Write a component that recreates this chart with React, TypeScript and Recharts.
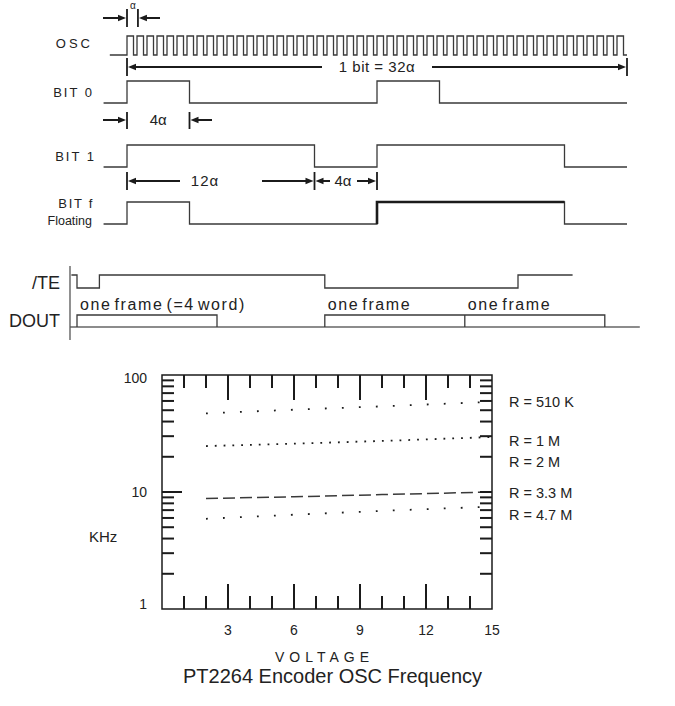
import React from 'react';
import { LineChart, Line, XAxis, YAxis, ReferenceArea, ReferenceLine } from 'recharts';

// ---------- timing diagram: time in α (1 bit = 32α) ----------
const OSC_CYCLES = 50;
const OSC_DUTY = 0.65;
const OSC_START = -1.1;
const BIT0_T = [-1.5, 0, 4, 16, 20, 32];
const BIT0_V = [0, 1, 0, 1, 0, 0];
const BIT1_T = [-1.5, 0, 12, 16, 28, 32];
const BIT1_V = [0, 1, 0, 1, 0, 0];
const BITF_T = [-1.5, 0, 4, 16, 28, 32];
const BITF_V = [0, 1, 0, 1, 0, 0];
const BITF_FLOAT = [16, 28];

// /TE and DOUT: time in frames
const TE_T = [-0.04, 0, 0.16, 1.77, 3.15, 3.54];
const TE_V = [1, 0, 1, 0, 1, 1];
const FRAME_STARTS = [0, 1.77, 2.77];
const FRAME_LABELS = ['one frame (=4 word)', 'one frame', 'one frame'];

// ---------- OSC frequency chart ----------
const VOLTS = [2, 6, 10, 15];
const F_510K = [47, 50.5, 54, 59];
const F_1M = [24.7, 25.9, 27.3, 29.5];
const F_3M3 = [8.8, 9.1, 9.5, 10];
const F_4M7 = [5.9, 6.4, 6.9, 7.5];
const R_LABELS = ['R = 510 K', 'R = 1 M', 'R = 2 M', 'R = 3.3 M', 'R = 4.7 M'];
const VOLT_TICKS = [1, 2, 3, 4, 5, 6, 7, 8, 9, 10, 11, 12, 13, 14, 15];
const VOLT_LABELS = [3, 6, 9, 12, 15];
const KHZ_TICKS = [1, 2, 3, 4, 5, 6, 7, 8, 9, 10, 20, 30, 40, 50, 60, 70, 80, 90, 100];
const KHZ_LABELS = [1, 10, 100];

// ---------- layout ----------
const W = 675;
const H = 706;
const FONT = '"Liberation Sans", Arial, Helvetica, sans-serif';
const INK = '#1b1b1b';
const WAVE = '#3a3a3a';
const T0 = 127;
const ALPHA_PX = 15.625;
const F0 = 77;
const FRAME_PX = 140;
const ALPHA_DOMAIN = [-T0 / ALPHA_PX, (W - T0) / ALPHA_PX];
const FRAME_DOMAIN = [-F0 / FRAME_PX, (W - F0) / FRAME_PX];
const ax = (t: number) => T0 + t * ALPHA_PX;
const fx = (f: number) => F0 + f * FRAME_PX;
const PLOT = { left: 162, right: 492, top: 375, bottom: 609 };
const R_LABEL_Y = [407, 446, 467, 498, 520];

type Pt = { t: number; v: number | null };

const toSteps = (ts: number[], vs: number[]): Pt[] => ts.map((t, i) => ({ t, v: vs[i] }));

function oscData(): Pt[] {
  const period = 32 / OSC_CYCLES;
  const pts: Pt[] = [{ t: OSC_START, v: 0 }];
  for (let k = 0; k < OSC_CYCLES; k++) {
    pts.push({ t: k * period, v: 1 });
    pts.push({ t: k * period + period * OSC_DUTY, v: 0 });
  }
  pts.push({ t: 32, v: 0 });
  return pts;
}

// each frame is an open box standing on the DOUT baseline
function frameData(): Pt[] {
  const pts: Pt[] = [];
  FRAME_STARTS.forEach((s) => {
    pts.push({ t: s, v: 0 }, { t: s, v: 1 }, { t: s + 1, v: 1 }, { t: s + 1, v: 0 }, { t: s + 1, v: null });
  });
  return pts;
}

interface LaneProps {
  high: number;
  low: number;
  data: Pt[];
  domain: number[];
  step?: boolean;
  bold?: Pt[];
  baseline?: number[];
}

function Lane({ high, low, data, domain, step = true, bold, baseline }: LaneProps) {
  return (
    <div style={{ position: 'absolute', left: 0, top: high - 2 }}>
      <LineChart width={W} height={low - high + 4} data={data} margin={{ top: 2, right: 0, bottom: 2, left: 0 }}>
        <XAxis dataKey="t" type="number" domain={domain} hide />
        <YAxis type="number" domain={[0, 1]} hide />
        {baseline && (
          <ReferenceLine
            segment={[{ x: baseline[0], y: 0 }, { x: baseline[1], y: 0 }]}
            stroke="#666"
            strokeWidth={1.3}
          />
        )}
        <Line
          type={step ? 'stepAfter' : 'linear'}
          dataKey="v"
          stroke={WAVE}
          strokeWidth={1.3}
          dot={false}
          isAnimationActive={false}
        />
        {bold && (
          <Line
            data={bold}
            type="linear"
            dataKey="v"
            stroke={INK}
            strokeWidth={2.6}
            dot={false}
            isAnimationActive={false}
          />
        )}
      </LineChart>
    </div>
  );
}

function Arrow({ from, to, y }: { from: number; to: number; y: number }) {
  const d = to > from ? 1 : -1;
  return (
    <g>
      <line x1={from} x2={to - d * 5} y1={y} y2={y} stroke={INK} strokeWidth={2} />
      <polygon points={`${to},${y} ${to - d * 8},${y - 3.2} ${to - d * 8},${y + 3.2}`} fill={INK} />
    </g>
  );
}

function VMark({ x, y1, y2 }: { x: number; y1: number; y2: number }) {
  return <line x1={x} x2={x} y1={y1} y2={y2} stroke={INK} strokeWidth={1.8} />;
}

function Txt({ x, y, size = 13, anchor = 'start', ls = 0, children }: any) {
  return (
    <text x={x} y={y} fontSize={size} fontFamily={FONT} fill="#222" textAnchor={anchor} letterSpacing={ls}>
      {children}
    </text>
  );
}

function VoltTick(props: any) {
  const { x, payload } = props;
  const v = payload.value;
  const len = v % 3 === 0 ? 25 : 13;
  return (
    <g>
      {v < 15 && <line x1={x} x2={x} y1={PLOT.bottom} y2={PLOT.bottom - len} stroke={INK} strokeWidth={2} />}
      {v < 15 && <line x1={x} x2={x} y1={PLOT.top} y2={PLOT.top + len} stroke={INK} strokeWidth={2} />}
      {VOLT_LABELS.includes(v) && (
        <text x={x} y={635} textAnchor="middle" fontSize={14} fontFamily={FONT} fill="#222">
          {v}
        </text>
      )}
    </g>
  );
}

function KhzTick(props: any) {
  const { y, payload } = props;
  const v = payload.value;
  const edge = v === 1 || v === 100;
  const nudge = v === 100 ? 3 : v === 1 ? -5 : 0;
  return (
    <g>
      {!edge && <line x1={PLOT.left} x2={PLOT.left + (v === 10 ? 20 : 12)} y1={y} y2={y} stroke={INK} strokeWidth={2} />}
      {!edge && <line x1={PLOT.right} x2={PLOT.right - 12} y1={y} y2={y} stroke={INK} strokeWidth={2} />}
      {KHZ_LABELS.includes(v) && (
        <text x={147} y={y + nudge + 5} textAnchor="end" fontSize={14} fontFamily={FONT} fill="#222">
          {v}
        </text>
      )}
    </g>
  );
}

export default function App() {
  const freqData = VOLTS.map((v, i) => ({ v, r510k: F_510K[i], r1m: F_1M[i], r3m3: F_3M3[i], r4m7: F_4M7[i] }));
  const boldF: Pt[] = [
    { t: BITF_FLOAT[0], v: 0 },
    { t: BITF_FLOAT[0], v: 1 },
    { t: BITF_FLOAT[1], v: 1 },
  ];

  return (
    <div style={{ position: 'absolute', left: 0, top: 0, width: W, height: H, background: '#fff', overflow: 'hidden' }}>
      {/* timing lanes */}
      <Lane high={36} low={55} data={oscData()} domain={ALPHA_DOMAIN} />
      <Lane high={81} low={103} data={toSteps(BIT0_T, BIT0_V)} domain={ALPHA_DOMAIN} />
      <Lane high={145} low={167} data={toSteps(BIT1_T, BIT1_V)} domain={ALPHA_DOMAIN} />
      <Lane high={202} low={224} data={toSteps(BITF_T, BITF_V)} domain={ALPHA_DOMAIN} bold={boldF} />
      <Lane high={275} low={288} data={toSteps(TE_T, TE_V)} domain={FRAME_DOMAIN} />
      <Lane high={315} low={327} data={frameData()} domain={FRAME_DOMAIN} step={false} baseline={[-0.05, 4.02]} />

      {/* frequency chart */}
      <div style={{ position: 'absolute', left: 0, top: 0 }}>
        <LineChart
          width={W}
          height={H}
          data={freqData}
          margin={{ top: PLOT.top, right: W - PLOT.right, bottom: H - PLOT.bottom - 30, left: PLOT.left - 40 }}
        >
          <XAxis
            dataKey="v"
            type="number"
            domain={[0, 15]}
            ticks={VOLT_TICKS}
            interval={0}
            tick={(p: any) => <VoltTick {...p} />}
            tickLine={false}
            axisLine={false}
            height={30}
          />
          <YAxis
            type="number"
            scale="log"
            domain={[1, 100]}
            ticks={KHZ_TICKS}
            interval={0}
            tick={(p: any) => <KhzTick {...p} />}
            tickLine={false}
            axisLine={false}
            width={40}
            allowDataOverflow
          />
          <ReferenceArea x1={0} x2={15} y1={1} y2={100} fill="none" stroke={INK} strokeWidth={1.5} ifOverflow="visible" />
          <Line dataKey="r510k" stroke={INK} strokeWidth={1.8} strokeDasharray="1.8 15.2" dot={false} isAnimationActive={false} />
          <Line dataKey="r1m" stroke={INK} strokeWidth={1.8} strokeDasharray="1.8 7" dot={false} isAnimationActive={false} />
          <Line dataKey="r3m3" stroke={WAVE} strokeWidth={1.5} strokeDasharray="12 5" dot={false} isAnimationActive={false} />
          <Line dataKey="r4m7" stroke={INK} strokeWidth={1.8} strokeDasharray="1.8 15.2" dot={false} isAnimationActive={false} />
        </LineChart>
      </div>

      {/* annotations and captions */}
      <svg width={W} height={H} style={{ position: 'absolute', left: 0, top: 0, pointerEvents: 'none' }}>
        <Txt x={93} y={47.7} anchor="end" ls={3}>OSC</Txt>
        <Txt x={94} y={96.6} anchor="end" ls={2}>BIT 0</Txt>
        <Txt x={96} y={160.6} anchor="end" ls={2}>BIT 1</Txt>
        <Txt x={94} y={207.6} anchor="end" ls={1.7}>BIT f</Txt>
        <Txt x={92} y={224.5} size={12.5} anchor="end">Floating</Txt>

        {/* α */}
        <Txt x={133} y={8.6} size={10} anchor="middle">α</Txt>
        <Arrow from={103} to={ax(0) - 1} y={18} />
        <VMark x={ax(0)} y1={9} y2={27} />
        <VMark x={ax(0.7)} y1={9} y2={27} />
        <Arrow from={160} to={ax(0.7) + 1} y={18} />

        {/* 1 bit = 32α */}
        <VMark x={ax(0)} y1={58} y2={76} />
        <VMark x={ax(32)} y1={58} y2={76} />
        <Arrow from={322} to={ax(0) + 1} y={67} />
        <Arrow from={432} to={ax(32) - 1} y={67} />
        <Txt x={ax(16)} y={72.4} size={15} anchor="middle" ls={0.5}>1 bit = 32α</Txt>

        {/* 4α under BIT 0 */}
        <Arrow from={103} to={ax(0) - 1} y={120} />
        <VMark x={ax(0)} y1={112} y2={129} />
        <VMark x={ax(4)} y1={112} y2={129} />
        <Arrow from={212} to={ax(4) + 1} y={120} />
        <Txt x={(ax(0) + ax(4)) / 2} y={125.4} size={15} anchor="middle">4α</Txt>

        {/* 12α and 4α under BIT 1 */}
        <VMark x={ax(0)} y1={172} y2={190} />
        <VMark x={ax(12)} y1={172} y2={190} />
        <VMark x={ax(16)} y1={172} y2={190} />
        <Arrow from={180} to={ax(0) + 1} y={181} />
        <Arrow from={262} to={ax(12) - 1} y={181} />
        <Txt x={205} y={186.4} size={15} anchor="middle" ls={1}>12α</Txt>
        <Arrow from={330} to={ax(12) + 1} y={181} />
        <Txt x={343} y={186.4} size={15} anchor="middle">4α</Txt>
        <Arrow from={357} to={ax(16) - 1} y={181} />

        {/* /TE and DOUT */}
        <line x1={70} x2={70} y1={266} y2={340} stroke="#555" strokeWidth={1.3} />
        <Txt x={60} y={289.4} size={18} anchor="end">/TE</Txt>
        <Txt x={60} y={327.4} size={18} anchor="end">DOUT</Txt>
        {FRAME_STARTS.map((s, i) => (
          <text key={i} x={fx(s) + 3} y={310} fontSize={16} fontFamily={FONT} fill="#222" letterSpacing={1.6} wordSpacing={-3}>
            {FRAME_LABELS[i]}
          </text>
        ))}

        {/* frequency chart captions */}
        {R_LABELS.map((r, i) => (
          <Txt key={r} x={509} y={R_LABEL_Y[i]} size={14.5}>{r}</Txt>
        ))}
        <Txt x={89} y={542.4} size={15}>KHz</Txt>
        <Txt x={275} y={661.5} size={14} ls={5}>VOLTAGE</Txt>
        <Txt x={183} y={683} size={20}>PT2264 Encoder OSC Frequency</Txt>
      </svg>
    </div>
  );
}
